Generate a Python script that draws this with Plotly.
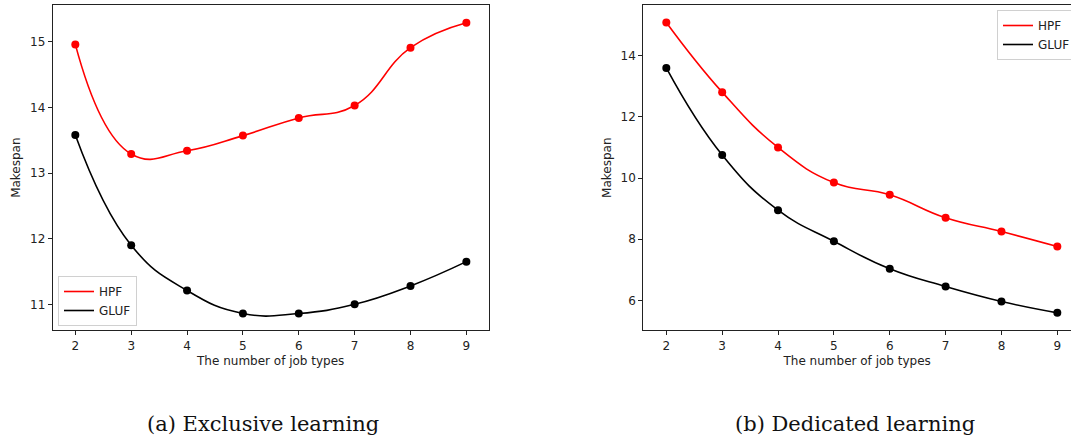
import plotly.graph_objects as go

job_types = [2, 3, 4, 5, 6, 7, 8, 9]

# (a) Exclusive learning
excl_hpf = [14.96, 13.29, 13.34, 13.57, 13.84, 14.03, 14.91, 15.29]
excl_gluf = [13.58, 11.90, 11.21, 10.86, 10.86, 11.00, 11.28, 11.65]

# (b) Dedicated learning
ded_hpf = [15.09, 12.81, 11.00, 9.85, 9.45, 8.70, 8.25, 7.76]
ded_gluf = [13.60, 10.75, 8.95, 7.93, 7.03, 6.45, 5.96, 5.59]

left_yticks = [11, 12, 13, 14, 15]
right_yticks = [6, 8, 10, 12, 14]
captions = ["(a) Exclusive learning", "(b) Dedicated learning"]

W, H = 1071, 437
RED = "#ff0000"
BLACK = "#000000"

fig = go.Figure()

def add_series(x, y, color, name, xa, ya, legend):
    fig.add_trace(go.Scatter(
        x=x, y=y, mode="lines", name=name,
        line=dict(color=color, width=1.6, shape="spline", smoothing=1.3),
        xaxis=xa, yaxis=ya, legend=legend, showlegend=True))
    fig.add_trace(go.Scatter(
        x=x, y=y, mode="markers", name=name,
        marker=dict(color=color, size=8),
        xaxis=xa, yaxis=ya, showlegend=False))

add_series(job_types, excl_hpf, RED, "HPF", "x", "y", "legend")
add_series(job_types, excl_gluf, BLACK, "GLUF", "x", "y", "legend")
add_series(job_types, ded_hpf, RED, "HPF", "x2", "y2", "legend2")
add_series(job_types, ded_gluf, BLACK, "GLUF", "x2", "y2", "legend2")

tickfont = dict(family="DejaVu Sans", size=12, color="#222")
titlefont = dict(family="DejaVu Sans", size=12, color="#222")

axis_common = dict(
    showgrid=False, zeroline=False, showline=True, linecolor="#222",
    linewidth=1, ticks="outside", ticklen=4, tickwidth=1, tickcolor="#222",
    tickfont=tickfont, automargin=False,
)

top = 1 - 5 / H
bottom = 1 - 330.3 / H

fig.update_layout(
    width=W, height=H,
    margin=dict(l=0, r=0, t=0, b=0, autoexpand=False),
    paper_bgcolor="white", plot_bgcolor="white",
    xaxis=dict(domain=[52.7 / W, 488.7 / W], range=[1.595, 9.40],
               tickvals=job_types, mirror=True, anchor="y",
               title=dict(text="The number of job types", font=titlefont, standoff=4),
               **axis_common),
    yaxis=dict(domain=[bottom, top], range=[10.604, 15.56],
               tickvals=left_yticks, mirror=True, anchor="x",
               title=dict(text="Makespan", font=titlefont, standoff=6),
               **axis_common),
    xaxis2=dict(domain=[643.3 / W, 1.0], range=[1.588, 9.245],
                tickvals=job_types, mirror=True, anchor="y2",
                title=dict(text="The number of job types", font=titlefont, standoff=4),
                **axis_common),
    yaxis2=dict(domain=[bottom, top], range=[5.019, 15.66],
                tickvals=right_yticks, mirror=False, anchor="x2",
                title=dict(text="Makespan", font=titlefont, standoff=6),
                **axis_common),
    legend=dict(x=58 / W, y=1 - 326 / H, xanchor="left", yanchor="bottom",
                bgcolor="white", bordercolor="#d0d0d0", borderwidth=1,
                font=dict(family="DejaVu Sans", size=12, color="#222"),
                tracegroupgap=0),
    legend2=dict(x=997 / W, y=1 - 10 / H, xanchor="left", yanchor="top",
                 bgcolor="white", bordercolor="#d0d0d0", borderwidth=1,
                 font=dict(family="DejaVu Sans", size=12, color="#222"),
                 tracegroupgap=0),
    showlegend=True,
)

capfont = dict(family="DejaVu Serif", size=21, color="#111")
fig.add_annotation(text=captions[0], x=263.3 / W, y=1 - 424 / H, xref="paper", yref="paper",
                   xanchor="center", yanchor="middle", showarrow=False, font=capfont)
fig.add_annotation(text=captions[1], x=854.5 / W, y=1 - 424 / H, xref="paper", yref="paper",
                   xanchor="center", yanchor="middle", showarrow=False, font=capfont)

fig.write_html(
    "out.html",
    config={"displayModeBar": False},
    post_script="document.body.style.margin='0';document.body.style.overflow='hidden';",
)
